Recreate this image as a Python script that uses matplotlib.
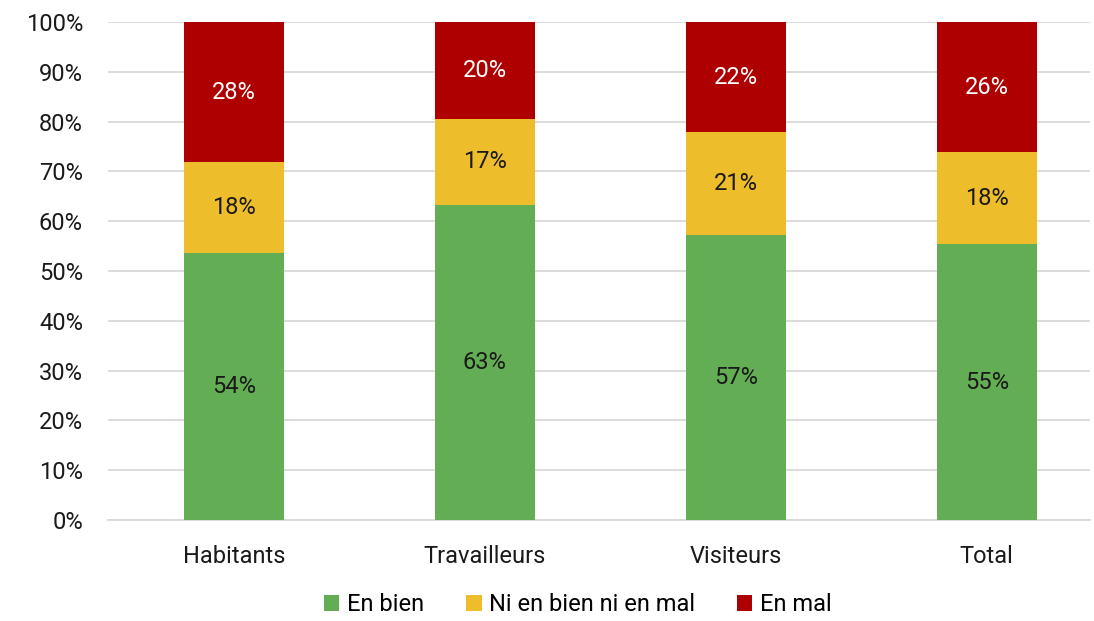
import matplotlib
matplotlib.use("Agg")
import matplotlib.pyplot as plt
import numpy as np

plt.rcParams['font.family'] = ['Roboto', 'DejaVu Sans']

categories = ["Habitants", "Travailleurs", "Visiteurs", "Total"]
series_names = ["En bien", "Ni en bien ni en mal", "En mal"]
en_bien = [53.6, 63.3, 57.2, 55.4]
ni_ni = [18.2, 17.2, 20.7, 18.4]
en_mal = [28.2, 19.5, 22.1, 26.2]
labels_bien = ["54%", "63%", "57%", "55%"]
labels_ni = ["18%", "17%", "21%", "18%"]
labels_mal = ["28%", "20%", "22%", "26%"]

colors = ["#63AE55", "#EEBD2C", "#AE0000"]
text_colors = ["#1a1a1a", "#1a1a1a", "white"]
FS = 17

fig = plt.figure(figsize=(10.94, 6.21), dpi=100)
ax = fig.add_axes([0.0987, 0.1626, 0.8973, 0.802])

x = np.arange(len(categories))
w = 0.4
bottom = np.zeros(len(categories))
handles = []
for vals, labs, c, tc, name in zip([en_bien, ni_ni, en_mal],
                                   [labels_bien, labels_ni, labels_mal],
                                   colors, text_colors, series_names):
    vals = np.array(vals)
    b = ax.bar(x, vals, w, bottom=bottom, color=c, label=name, zorder=3)
    handles.append(b)
    for xi, bi, vi, li in zip(x, bottom, vals, labs):
        ax.text(xi, bi + vi / 2, li, ha='center', va='center', color=tc,
                fontsize=FS, zorder=4)
    bottom = bottom + vals

ax.set_ylim(0, 100)
ax.set_xlim(-0.502, 3.41)
ax.set_yticks(np.arange(0, 101, 10))
ax.set_yticklabels([f"{v}%" for v in range(0, 101, 10)])
ax.set_xticks(x)
ax.set_xticklabels(categories)
ax.tick_params(axis='both', length=0, labelsize=FS, colors='#1a1a1a')
ax.tick_params(axis='x', pad=18)
ax.tick_params(axis='y', pad=18)
ax.yaxis.grid(True, color='#d9d9d9', linewidth=1.3, zorder=0)
for s in ['top', 'right', 'left']:
    ax.spines[s].set_visible(False)
ax.spines['bottom'].set_color('#d9d9d9')
ax.spines['bottom'].set_linewidth(1.3)

leg = fig.legend(handles=handles, labels=series_names, loc='center',
                 bbox_to_anchor=(0.528, 0.026), ncol=3, frameon=False,
                 prop={'size': FS}, borderpad=0.1,
                 handlelength=0.65, handleheight=0.65,
                 handletextpad=0.3, columnspacing=1.8)

fig.savefig("out.png", dpi=100)
